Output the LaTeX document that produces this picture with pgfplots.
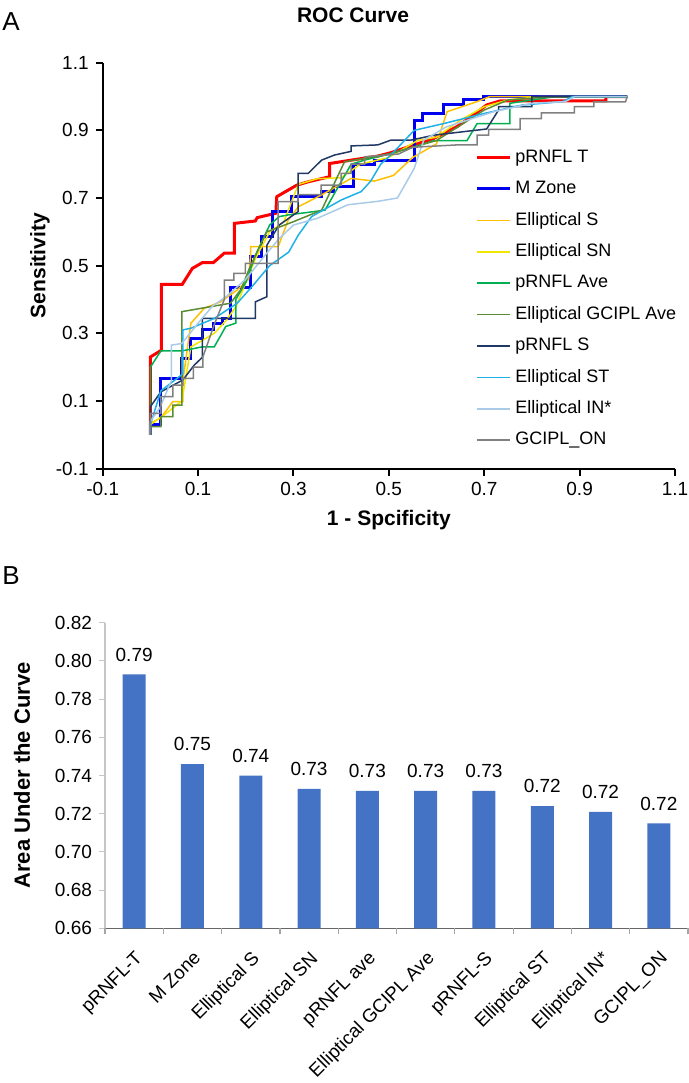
\documentclass[border=0pt]{standalone}
\usepackage{fontspec}
\setmainfont{Liberation Sans}
\usepackage{pgfplots}
\pgfplotsset{compat=1.18}

\definecolor{cRed}{HTML}{FF0000}
\definecolor{cBlue}{HTML}{0000F0}
\definecolor{cEllS}{HTML}{FFC000}
\definecolor{cEllSN}{HTML}{F2E600}
\definecolor{cRnflAve}{HTML}{00B050}
\definecolor{cGciplAve}{HTML}{5B8C32}
\definecolor{cRnflS}{HTML}{203864}
\definecolor{cEllST}{HTML}{20B0E8}
\definecolor{cEllIN}{HTML}{A9CBE8}
\definecolor{cGciplOn}{HTML}{808080}
\definecolor{barblue}{HTML}{4472C4}

\begin{document}
\begin{tikzpicture}
\useasboundingbox (0,0) rectangle (344.5pt,-541.5pt);

\node[font=\fontsize{13}{15}\selectfont] at (5.5pt,-11pt) {A};
\node[font=\fontsize{13}{15}\selectfont] at (5.5pt,-288pt) {B};

% ---------- A: ROC curves ----------
\begin{axis}[
  at={(51.35pt,-234.3pt)}, anchor=south west,
  scale only axis, width=286.15pt, height=202.95pt,
  xmin=-0.1, xmax=1.1, ymin=-0.1, ymax=1.1,
  xtick={-0.1,0.1,0.3,0.5,0.7,0.9,1.1},
  ytick={-0.1,0.1,0.3,0.5,0.7,0.9,1.1},
  axis lines=left,
  axis line style={-, line width=1pt, black},
  tick align=outside, major tick length=3.5pt,
  tick style={line width=1pt, black},
  ticklabel style={font=\fontsize{9.5}{11}\selectfont},
  /pgf/number format/fixed, /pgf/number format/fixed zerofill,
  /pgf/number format/precision=1,
  /pgf/number format/assume math mode=true,
  title={ROC Curve},
  every axis title shift=0pt,
  title style={at={(axis description cs:0.4374,1.1175)}, anchor=center,
               font=\bfseries\fontsize{10.5}{12}\selectfont},
  xlabel={1 - Spcificity},
  xlabel style={at={(axis description cs:0.5,-0.1266)}, anchor=center,
                font=\bfseries\fontsize{10.5}{12}\selectfont},
  ylabel={Sensitivity},
  ylabel style={at={(axis description cs:-0.1096,0.5)}, anchor=center,
                font=\bfseries\fontsize{10.5}{12}\selectfont},
  legend style={at={(0.6505,0.788)}, anchor=north west, draw=none, fill=none,
                inner sep=0pt, row sep=7.3pt,
                font=\fontsize{9}{10}\selectfont,
                nodes={inner sep=0pt, text height=6.6pt, text depth=1.8pt},
                /tikz/every odd column/.append style={column sep=2pt}},
  legend cell align=left,
  legend image code/.code={\draw[#1] (0pt,0pt) -- (16.5pt,0pt);},
]
% pRNFL T
\addplot[cRed, line width=1.5pt] coordinates {
 (0,0) (0,0.23) (0.023,0.25) (0.023,0.445) (0.067,0.445) (0.088,0.492)
 (0.109,0.509) (0.132,0.509) (0.155,0.537) (0.176,0.537) (0.176,0.625)
 (0.22,0.632) (0.224,0.642) (0.263,0.655) (0.265,0.704) (0.307,0.738)
 (0.331,0.748) (0.376,0.763) (0.376,0.802) (0.421,0.812) (0.477,0.824)
 (0.504,0.834) (0.553,0.857) (0.594,0.876) (0.615,0.891) (0.643,0.911)
 (0.677,0.945) (0.705,0.975) (0.733,0.987) (0.955,0.987) (0.955,1.0) (1,1)};
% M Zone
\addplot[cBlue, line width=1.5pt] coordinates {
 (0,0) (0,0.03) (0.022,0.03) (0.022,0.165) (0.066,0.165) (0.066,0.225)
 (0.085,0.225) (0.085,0.285) (0.109,0.285) (0.109,0.31) (0.132,0.31)
 (0.132,0.33) (0.151,0.33) (0.151,0.344) (0.168,0.344) (0.168,0.435)
 (0.21,0.435) (0.21,0.527) (0.233,0.527) (0.233,0.586) (0.255,0.586)
 (0.255,0.66) (0.296,0.66) (0.296,0.704) (0.359,0.704) (0.359,0.719)
 (0.383,0.719) (0.383,0.733) (0.425,0.733) (0.425,0.80) (0.47,0.80)
 (0.47,0.81) (0.553,0.81) (0.553,0.93) (0.57,0.93) (0.57,0.95) (0.615,0.95)
 (0.615,0.975) (0.657,0.975) (0.657,0.99) (0.698,0.99) (0.698,1.0) (1,1)};
% Elliptical S
\addplot[cEllS, line width=0.75pt] coordinates {
 (0,0) (0,0.034) (0.022,0.05) (0.047,0.098) (0.068,0.098) (0.068,0.16)
 (0.085,0.33) (0.113,0.374) (0.147,0.393) (0.182,0.428) (0.206,0.46)
 (0.21,0.53) (0.21,0.556) (0.268,0.556) (0.289,0.635) (0.31,0.674)
 (0.36,0.71) (0.421,0.758) (0.47,0.75) (0.51,0.767) (0.55,0.82) (0.60,0.86)
 (0.615,0.925) (0.622,0.955) (0.643,0.965) (0.685,0.985) (0.712,1.0) (1,1)};
% Elliptical SN
\addplot[cEllSN, line width=0.75pt] coordinates {
 (0,0) (0,0.03) (0.03,0.06) (0.066,0.1) (0.085,0.26) (0.11,0.28) (0.134,0.30)
 (0.16,0.34) (0.18,0.38) (0.2,0.45) (0.22,0.52) (0.25,0.6) (0.28,0.63)
 (0.31,0.74) (0.35,0.757) (0.40,0.76) (0.44,0.80) (0.50,0.82) (0.56,0.87)
 (0.6,0.88) (0.65,0.93) (0.7,0.97) (0.75,0.99) (0.82,1.0) (1,1)};
% pRNFL Ave
\addplot[cRnflAve, line width=0.75pt] coordinates {
 (0,0) (0,0.20) (0.022,0.248) (0.066,0.248) (0.109,0.26) (0.134,0.26)
 (0.158,0.32) (0.179,0.33) (0.179,0.40) (0.20,0.45) (0.22,0.53) (0.25,0.62)
 (0.27,0.645) (0.289,0.65) (0.366,0.664) (0.421,0.80) (0.449,0.812)
 (0.5,0.83) (0.55,0.85) (0.595,0.87) (0.664,0.87) (0.685,0.92) (0.754,0.92)
 (0.754,0.98) (0.80,0.99) (0.85,1.0) (1,1)};
% Elliptical GCIPL Ave
\addplot[cGciplAve, line width=0.75pt] coordinates {
 (0,0) (0,0.024) (0.022,0.024) (0.022,0.054) (0.047,0.054) (0.047,0.088)
 (0.066,0.088) (0.066,0.364) (0.168,0.389) (0.19,0.43) (0.21,0.50)
 (0.244,0.60) (0.30,0.63) (0.359,0.664) (0.407,0.807) (0.449,0.817)
 (0.50,0.83) (0.6,0.87) (0.7,0.96) (0.75,0.99) (0.85,1.0) (1,1)};
% pRNFL S
\addplot[cRnflS, line width=0.75pt] coordinates {
 (0,0) (0,0.083) (0.022,0.127) (0.068,0.162) (0.092,0.206) (0.109,0.229)
 (0.109,0.344) (0.22,0.344) (0.22,0.393) (0.244,0.408) (0.244,0.56)
 (0.27,0.62) (0.31,0.66) (0.31,0.773) (0.331,0.773) (0.359,0.812)
 (0.386,0.827) (0.421,0.838) (0.421,0.854) (0.477,0.857) (0.504,0.871)
 (0.546,0.871) (0.595,0.886) (0.705,0.904) (0.73,0.96) (0.73,0.97)
 (0.80,0.97) (0.80,1.0) (1,1)};
% Elliptical ST
\addplot[cEllST, line width=0.75pt] coordinates {
 (0,0) (0,0.03) (0.022,0.13) (0.068,0.18) (0.068,0.31) (0.085,0.315)
 (0.134,0.344) (0.182,0.389) (0.21,0.433) (0.25,0.50) (0.29,0.54)
 (0.31,0.59) (0.338,0.645) (0.40,0.694) (0.442,0.719) (0.462,0.75)
 (0.483,0.80) (0.504,0.827) (0.553,0.90) (0.615,0.92) (0.70,0.95)
 (0.78,0.975) (0.865,0.985) (0.885,1.0) (1,1)};
% Elliptical IN*
\addplot[cEllIN, line width=0.75pt] coordinates {
 (0,0) (0,0.04) (0.02,0.08) (0.044,0.16) (0.044,0.265) (0.066,0.27)
 (0.1,0.33) (0.13,0.38) (0.16,0.41) (0.2,0.46) (0.24,0.53) (0.27,0.58)
 (0.30,0.62) (0.35,0.64) (0.414,0.68) (0.476,0.69) (0.518,0.70)
 (0.553,0.787) (0.573,0.871) (0.62,0.91) (0.72,0.955) (0.80,0.98)
 (0.87,0.985) (0.89,1.0) (1,1)};
% GCIPL_ON
\addplot[cGciplOn, line width=0.75pt] coordinates {
 (0,0) (0,0.063) (0.022,0.063) (0.022,0.113) (0.047,0.113) (0.047,0.147)
 (0.068,0.147) (0.068,0.167) (0.09,0.167) (0.09,0.2) (0.11,0.2) (0.11,0.23)
 (0.135,0.33) (0.155,0.40) (0.155,0.457) (0.175,0.457) (0.175,0.477)
 (0.199,0.477) (0.199,0.507) (0.268,0.507) (0.268,0.689) (0.31,0.689)
 (0.31,0.71) (0.358,0.71) (0.358,0.738) (0.40,0.738) (0.40,0.773)
 (0.421,0.773) (0.421,0.80) (0.449,0.80) (0.449,0.822) (0.52,0.83)
 (0.55,0.85) (0.643,0.857) (0.685,0.857) (0.685,0.886) (0.709,0.886)
 (0.709,0.903) (0.775,0.903) (0.775,0.935) (0.82,0.935) (0.82,0.952)
 (0.889,0.952) (0.889,0.97) (0.93,0.97) (0.93,0.984) (0.996,0.984) (1,1)};
\legend{pRNFL T, M Zone, Elliptical S, Elliptical SN, pRNFL Ave,
        Elliptical GCIPL Ave, pRNFL S, Elliptical ST, Elliptical IN*, GCIPL\_ON}
\end{axis}

% ---------- B: AUC bars ----------
\begin{axis}[
  at={(52.5pt,-464.15pt)}, anchor=south west,
  scale only axis, width=291.5pt, height=152.8pt,
  ybar, bar width=11.5pt,
  xmin=-0.5, xmax=9.5, ymin=0.66, ymax=0.82,
  ytick={0.66,0.68,0.70,0.72,0.74,0.76,0.78,0.80,0.82},
  xtick={0,1,2,3,4,5,6,7,8,9},
  xticklabels={pRNFL-T, M Zone, Elliptical S, Elliptical SN, pRNFL ave,
               Elliptical GCIPL Ave, pRNFL-S, Elliptical ST, Elliptical IN*, GCIPL\_ON},
  xtick style={draw=none},
  extra x ticks={-0.5,0.5,1.5,2.5,3.5,4.5,5.5,6.5,7.5,8.5,9.5},
  extra x tick labels={},
  extra x tick style={xtick style={draw=gray!70, line width=0.6pt}},
  axis x line=bottom, axis y line=left,
  x axis line style={-, draw=black!60, line width=0.6pt},
  y axis line style={-, draw=gray!45, line width=0.6pt},
  tick align=outside, major tick length=3pt,
  ytick style={draw=gray!45, line width=0.5pt},
  ticklabel style={font=\fontsize{9.5}{11}\selectfont},
  yticklabel style={/pgf/number format/fixed, /pgf/number format/fixed zerofill,
                    /pgf/number format/precision=2,
                    /pgf/number format/assume math mode=true},
  xticklabel style={xshift=0pt, yshift=-7.5pt, rotate=45, anchor=north east,
                    inner sep=0pt, font=\fontsize{9.4}{11}\selectfont},
  ylabel={Area Under the Curve},
  ylabel style={at={(axis description cs:-0.1424,0.5)}, anchor=center,
                font=\bfseries\fontsize{11}{13}\selectfont},
  nodes near coords, point meta=explicit symbolic,
  every node near coord/.append style={font=\fontsize{9.5}{11}\selectfont,
                                       text=black, yshift=3pt},
]
\addplot[fill=barblue, draw=none] coordinates {
 (0,0.793) [0.79] (1,0.746) [0.75] (2,0.740) [0.74] (3,0.733) [0.73]
 (4,0.732) [0.73] (5,0.732) [0.73] (6,0.732) [0.73] (7,0.724) [0.72]
 (8,0.721) [0.72] (9,0.715) [0.72]};
\end{axis}
\end{tikzpicture}
\end{document}
